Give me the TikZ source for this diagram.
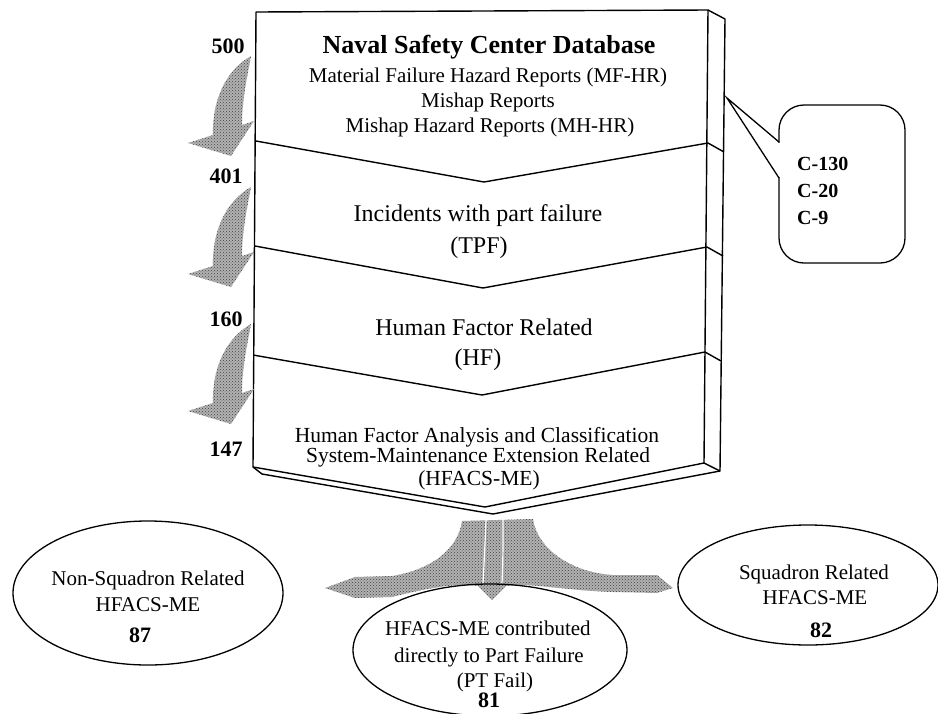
\documentclass[tikz,border=0pt]{standalone}
\usepackage{fontspec}
\setmainfont{Liberation Serif}
\usetikzlibrary{shapes.geometric,patterns}
\newcommand{\myfs}[1]{\fontsize{#1}{#1}\selectfont}
\begin{document}
\begin{tikzpicture}[x=1pt,y=-1pt,
  edge/.style={line width=1.4pt, line join=round},
  fanfill/.style={fill=black!30, postaction={pattern=crosshatch dots, pattern color=black!75}},
  lbl/.style={anchor=base, inner sep=0pt},
  oval/.style={draw, ellipse, line width=1.3pt, inner sep=0pt},
]
\useasboundingbox (0,0) rectangle (938,713);

% ---- main 3D box ----
\draw[edge, fill=white] (256,12) -- (708,10) -- (704,463) -- (485,507) -- (253,467) -- cycle;
\draw[edge] (708,10) -- (725,19) -- (720,471) -- (704,463);
\draw[edge] (253,467) -- (262,474) -- (493,514) -- (720,471);
\draw[edge] (256,141) -- (484,182) -- (708,143) -- (724,152);
\draw[edge] (255,246) -- (483,288) -- (707,247) -- (723,256);
\draw[edge] (253,355) -- (482,395) -- (705,352) -- (721,361);

% ---- box texts ----
\node (title) [lbl] at (489,53) {\myfs{26}\bfseries Naval Safety Center Database};
\node (mfhr)  [lbl] at (488,82) {\myfs{21}Material Failure Hazard Reports (MF-HR)};
\node (mish)  [lbl] at (488,107) {\myfs{21}Mishap Reports};
\node (mhhr)  [lbl] at (490,132) {\myfs{21}Mishap Hazard Reports (MH-HR)};
\node (inc)   [lbl] at (478,221) {\myfs{24}Incidents with part failure};
\node (tpf)   [lbl] at (479,253) {\myfs{24}(TPF)};
\node (hfr)   [lbl] at (484,335) {\myfs{24}Human Factor Related};
\node (hf)    [lbl] at (478,365) {\myfs{24}(HF)};
\node (hfa1)  [lbl] at (477,442) {\myfs{21.5}Human Factor Analysis and Classification};
\node (hfa2)  [lbl] at (478,462) {\myfs{21.5}System-Maintenance Extension Related};
\node (hfa3)  [lbl] at (479,485) {\myfs{21.5}(HFACS-ME)};

% ---- counts on the left ----
\node (n500) [lbl] at (228,53)  {\myfs{22}\bfseries 500};
\node (n401) [lbl] at (226,183) {\myfs{22}\bfseries 401};
\node (n160) [lbl] at (226,326) {\myfs{22}\bfseries 160};
\node (n147) [lbl] at (226,456) {\myfs{22}\bfseries 147};

% ---- curved down arrows ----
\foreach \dy in {0,131,268}{
  \begin{scope}[shift={(0,\dy)}]
    \fill[fanfill] (251,56) .. controls (247,78) and (242,100) .. (242,125)
      -- (254,121) -- (231,156) -- (188,143) -- (213,135)
      .. controls (212,100) and (226,70) .. (251,56) -- cycle;
  \end{scope}
}

% ---- callout ----
\node (callout) [draw, line width=1.3pt, rounded corners=25pt, minimum width=126pt,
  minimum height=158pt, inner sep=0pt] at (842,184) {};
\fill[white] (776,143) rectangle (783,177);
\coordinate (ctip) at (727,98);
\coordinate (cb1) at (779,142);
\coordinate (cb2) at (779,178);
\draw[line width=1.3pt, line join=miter] (cb1) -- (ctip) -- (cb2);
\node (c130) [lbl, anchor=base west] at (797,170) {\myfs{20}\bfseries C-130};
\node (c20)  [lbl, anchor=base west] at (797,197) {\myfs{20}\bfseries C-20};
\node (c9)   [lbl, anchor=base west] at (797,224) {\myfs{20}\bfseries C-9};

% ---- three-way fan arrow ----
\fill[fanfill] (462,521) -- (533,519) .. controls (537,548) and (570,572) .. (612,575)
  -- (657,575) -- (673,588) -- (657,593) -- (612,592)
  .. controls (560,590) and (525,582) .. (506,586) -- (492,600) -- (478,586)
  .. controls (455,582) and (420,590) .. (392,597) -- (355,598) -- (325,588)
  -- (355,577) -- (392,576) .. controls (430,570) and (458,550) .. (462,521) -- cycle;
\draw[white, line width=1.2pt] (486,520) .. controls (485,545) and (484,565) .. (483,584);
\draw[white, line width=1.2pt] (503,519) .. controls (503,545) and (503,565) .. (502,583);

% ---- ellipses ----
\node (nonsq) [oval, minimum width=270pt, minimum height=144pt] at (148,593) {};
\node (ptfail) [oval, minimum width=274pt, minimum height=132pt] at (490,650) {};
\node (sq) [oval, minimum width=260pt, minimum height=120pt] at (808,585) {};

\node (nsq1) [lbl] at (148,585) {\myfs{21}Non-Squadron Related};
\node (nsq2) [lbl] at (148,611) {\myfs{21}HFACS-ME};
\node (nsq3) [lbl] at (140,642) {\myfs{22}\bfseries 87};

\node (pt1) [lbl] at (488,635) {\myfs{21}HFACS-ME contributed};
\node (pt2) [lbl] at (489,662) {\myfs{21}directly to Part Failure};
\node (pt3) [lbl] at (495,687) {\myfs{21}(PT Fail)};
\node (pt4) [lbl] at (489,707) {\myfs{22}\bfseries 81};

\node (sq1) [lbl] at (814,579) {\myfs{21}Squadron Related};
\node (sq2) [lbl] at (815,604) {\myfs{21}HFACS-ME};
\node (sq3) [lbl] at (821,637) {\myfs{22}\bfseries 82};
\end{tikzpicture}
\end{document}
